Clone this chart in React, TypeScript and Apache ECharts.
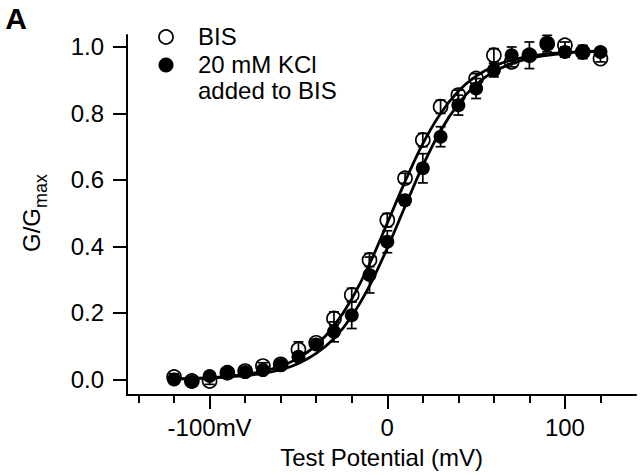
import React, { useEffect, useRef } from "react";
import * as echarts from "echarts";

const potentials = [-120, -110, -100, -90, -80, -70, -60, -50, -40, -30, -20, -10, 0, 10, 20, 30, 40, 50, 60, 70, 80, 90, 100, 110, 120];
const bisMean = [0.007, -0.005, -0.005, 0.02, 0.025, 0.04, 0.045, 0.09, 0.11, 0.183, 0.254, 0.359, 0.479, 0.605, 0.72, 0.82, 0.855, 0.905, 0.975, 0.955, 0.975, 1.01, 1.005, 0.985, 0.965];
const bisErr = [0.01, 0.01, 0.01, 0.01, 0.01, 0.01, 0.01, 0.023, 0.01, 0.02, 0.02, 0.02, 0.02, 0.015, 0.02, 0.02, 0.015, 0.015, 0.02, 0.015, 0.015, 0.015, 0.01, 0.01, 0.01];
const kclMean = [0.0, -0.007, 0.01, 0.022, 0.022, 0.028, 0.043, 0.068, 0.105, 0.143, 0.193, 0.314, 0.414, 0.539, 0.635, 0.73, 0.825, 0.875, 0.93, 0.975, 0.975, 1.01, 0.985, 0.985, 0.985];
const kclErr = [0.008, 0.008, 0.008, 0.008, 0.008, 0.008, 0.008, 0.01, 0.012, 0.03, 0.04, 0.054, 0.033, 0.015, 0.044, 0.03, 0.03, 0.03, 0.02, 0.025, 0.04, 0.025, 0.015, 0.02, 0.01];
const bisFit = [0.002, 0.003, 0.005, 0.009, 0.015, 0.024, 0.04, 0.064, 0.103, 0.161, 0.242, 0.347, 0.47, 0.595, 0.709, 0.8, 0.867, 0.912, 0.942, 0.961, 0.972, 0.979, 0.984, 0.986, 0.988];
const kclFit = [0.001, 0.002, 0.004, 0.007, 0.011, 0.018, 0.029, 0.048, 0.078, 0.123, 0.19, 0.281, 0.395, 0.52, 0.643, 0.748, 0.829, 0.887, 0.926, 0.95, 0.966, 0.975, 0.981, 0.985, 0.987];

const yTicks = [0, 0.2, 0.4, 0.6, 0.8, 1.0];
const xMajorTicks = [-100, 0, 100];
const xMinorTicks = [-140, -120, -80, -60, -40, -20, 20, 40, 60, 80, 120];
const legendLabels = ["BIS", "20 mM KCl", "added to BIS"];

const FONT = "'Liberation Sans', Arial, Helvetica, sans-serif";

export default function App() {
  const ref = useRef<HTMLDivElement>(null);
  useEffect(() => {
    if (!ref.current) return;
    const chart = echarts.init(ref.current, null, { renderer: "svg" });
    const pairs = (ys: number[]) => potentials.map((v, i) => [v, ys[i]]);
    const errData = (ys: number[], es: number[]) => potentials.map((v, i) => [v, ys[i] - es[i], ys[i] + es[i]]);
    const errRender = (params: any, api: any) => {
      const x = api.value(0);
      const lo = api.coord([x, api.value(1)]);
      const hi = api.coord([x, api.value(2)]);
      const cap = 5;
      const style = { stroke: "#000", lineWidth: 1.7 };
      return {
        type: "group",
        children: [
          { type: "line", shape: { x1: lo[0], y1: lo[1], x2: hi[0], y2: hi[1] }, style },
          { type: "line", shape: { x1: lo[0] - cap, y1: lo[1], x2: lo[0] + cap, y2: lo[1] }, style },
          { type: "line", shape: { x1: hi[0] - cap, y1: hi[1], x2: hi[0] + cap, y2: hi[1] }, style },
        ],
      };
    };
    const xMin = -146.5;
    const xMax = 140;
    chart.setOption({
      animation: false,
      grid: { left: 127, right: 4, top: 35, bottom: 80, containLabel: false },
      xAxis: [
        {
          type: "value",
          min: xMin,
          max: xMax,
          position: "bottom",
          axisLine: { show: true, onZero: false, lineStyle: { color: "#000", width: 2 } },
          axisTick: { show: true, customValues: xMajorTicks, length: 14, lineStyle: { color: "#000", width: 2 } },
          axisLabel: {
            customValues: xMajorTicks,
            formatter: (v: number) => (v === -100 ? "-100mV" : String(v)),
            color: "#000",
            fontSize: 24,
            fontFamily: FONT,
            margin: 20,
          },
          splitLine: { show: false },
          name: "Test Potential (mV)",
          nameLocation: "middle",
          nameGap: 50,
          nameTextStyle: { color: "#000", fontSize: 24, fontFamily: FONT },
        },
        {
          type: "value",
          min: xMin,
          max: xMax,
          position: "bottom",
          axisLine: { show: false, onZero: false },
          axisTick: { show: true, customValues: xMinorTicks, length: 8, lineStyle: { color: "#000", width: 2 } },
          axisLabel: { show: false },
          splitLine: { show: false },
        },
      ],
      yAxis: {
        type: "value",
        min: -0.047,
        max: 1.036,
        axisLine: { show: true, onZero: false, lineStyle: { color: "#000", width: 2 } },
        axisTick: { show: true, customValues: yTicks, length: 14, lineStyle: { color: "#000", width: 2 } },
        axisLabel: {
          customValues: yTicks,
          formatter: (v: number) => v.toFixed(1),
          color: "#000",
          fontSize: 24,
          fontFamily: FONT,
          margin: 23,
        },
        splitLine: { show: false },
      },
      series: [
        {
          type: "scatter",
          name: "BIS",
          data: pairs(bisMean),
          symbol: "circle",
          symbolSize: 14,
          itemStyle: { color: "#fff", borderColor: "#000", borderWidth: 1.7, opacity: 1 },
          z: 2,
        },
        {
          type: "custom",
          data: errData(bisMean, bisErr),
          renderItem: errRender,
          z: 3,
        },
        {
          type: "line",
          data: pairs(bisFit),
          smooth: 0.3,
          showSymbol: false,
          lineStyle: { color: "#000", width: 2.8 },
          z: 4,
        },
        {
          type: "line",
          data: pairs(kclFit),
          smooth: 0.3,
          showSymbol: false,
          lineStyle: { color: "#000", width: 2.8 },
          z: 4,
        },
        {
          type: "scatter",
          name: "20 mM KCl",
          data: pairs(kclMean),
          symbol: "circle",
          symbolSize: 14,
          itemStyle: { color: "#000", borderColor: "#000", borderWidth: 0, opacity: 1 },
          z: 5,
        },
        {
          type: "custom",
          data: errData(kclMean, kclErr),
          renderItem: errRender,
          z: 6,
        },
      ],
      graphic: [
        {
          type: "text",
          x: 16,
          y: 18,
          style: {
            text: "A",
            fontSize: 30,
            fontWeight: "bold",
            fontFamily: FONT,
            fill: "#000",
            align: "center",
            verticalAlign: "middle",
          },
        },
        {
          type: "text",
          x: 31,
          y: 213,
          rotation: Math.PI / 2,
          style: {
            text: "{n|G/G}{s|max}",
            align: "center",
            verticalAlign: "middle",
            fill: "#000",
            fontFamily: FONT,
            rich: {
              n: { fontSize: 24, fontFamily: FONT, fill: "#000", lineHeight: 26 },
              s: { fontSize: 18, fontFamily: FONT, fill: "#000", lineHeight: 18, padding: [20, 0, 0, 0] },
            },
          },
        },
        { type: "circle", shape: { cx: 166, cy: 37, r: 7 }, style: { fill: "#fff", stroke: "#000", lineWidth: 1.7 } },
        { type: "circle", shape: { cx: 166, cy: 65, r: 7.5 }, style: { fill: "#000" } },
        {
          type: "text",
          x: 198,
          y: 36,
          style: { text: legendLabels[0], fontSize: 24, fontFamily: FONT, fill: "#000", verticalAlign: "middle" },
        },
        {
          type: "text",
          x: 198,
          y: 64,
          style: { text: legendLabels[1], fontSize: 24, fontFamily: FONT, fill: "#000", verticalAlign: "middle" },
        },
        {
          type: "text",
          x: 198,
          y: 90,
          style: { text: legendLabels[2], fontSize: 24, fontFamily: FONT, fill: "#000", verticalAlign: "middle" },
        },
      ],
    });
    return () => chart.dispose();
  }, []);
  return (
    <div
      ref={ref}
      style={{ position: "fixed", left: 0, top: 0, width: 640, height: 475, background: "#fff" }}
    />
  );
}
